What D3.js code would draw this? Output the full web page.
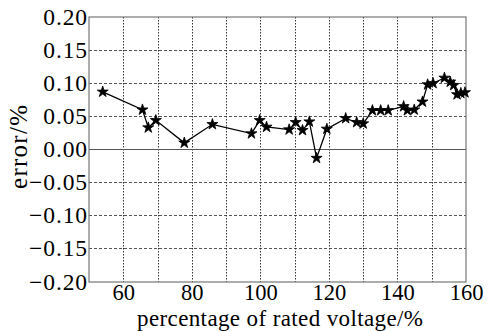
<!DOCTYPE html>
<html>
<head>
<meta charset="utf-8">
<title>error vs percentage of rated voltage</title>
<script src="https://cdn.jsdelivr.net/npm/d3@7"></script>
<style>
  body { margin: 0; background: #fff; }
  svg text { font-family: "Liberation Serif", "Times New Roman", serif !important; fill: #000; }
</style>
</head>
<body>
<div id="chart"></div>
<script>
// data
const voltage = [54, 65.6, 67.3, 69.5, 77.8, 86, 97.4, 99.8, 101.8, 108.4, 110.3, 112.3, 114.3, 116.4, 119.4,
  124.9, 128.1, 130, 132.7, 135.1, 137.3, 141.8, 142.9, 144.9, 147.3, 148.8, 150.4, 153.7, 155.4, 156.4,
  157.4, 158.5, 159.7];
const errorPct = [0.087, 0.060, 0.033, 0.044, 0.010, 0.038, 0.024, 0.044, 0.034, 0.030, 0.041, 0.029, 0.042, -0.013, 0.031,
  0.047, 0.041, 0.039, 0.059, 0.059, 0.059, 0.065, 0.059, 0.060, 0.072, 0.098, 0.100, 0.108, 0.102, 0.097,
  0.083, 0.085, 0.086];
const xTicks = [60, 80, 100, 120, 140, 160];
const xGrid = [60, 70, 80, 90, 100, 110, 120, 130, 140, 150];
const yTicks = [-0.20, -0.15, -0.10, -0.05, 0.00, 0.05, 0.10, 0.15, 0.20];

const W = 489, H = 331;
const margin = { top: 17, right: 23, bottom: 49, left: 89 };
const width = W - margin.left - margin.right,
      height = H - margin.top - margin.bottom;

const svg = d3.select('#chart').append('svg')
    .attr('width', W)
    .attr('height', H);

const g = svg.append('g')
    .attr('transform', 'translate(' + margin.left + ',' + margin.top + ')');

const x = d3.scaleLinear().domain([50, 160]).range([0, width]);
const y = d3.scaleLinear().domain([-0.2, 0.2]).range([height, 0]);

// grid
g.append('g').selectAll('line')
    .data(yTicks.filter(d => d !== 0 && Math.abs(d) < 0.2))
  .enter().append('line')
    .attr('x1', 0).attr('x2', width)
    .attr('y1', d => y(d)).attr('y2', d => y(d))
    .attr('stroke', '#555')
    .attr('stroke-width', 1)
    .attr('stroke-dasharray', '3,2')
    .attr('shape-rendering', 'crispEdges');

g.append('g').selectAll('line')
    .data(xGrid)
  .enter().append('line')
    .attr('x1', d => Math.round(x(d)) + 0.5).attr('x2', d => Math.round(x(d)) + 0.5)
    .attr('y1', 0).attr('y2', height)
    .attr('stroke', '#333')
    .attr('stroke-width', 1)
    .attr('stroke-dasharray', '1.5,1.5');

// zero line
g.append('line')
    .attr('x1', 0).attr('x2', width)
    .attr('y1', y(0)).attr('y2', y(0))
    .attr('stroke', '#555')
    .attr('stroke-width', 1)
    .attr('shape-rendering', 'crispEdges');

// frame
g.append('rect')
    .attr('x', 0).attr('y', 0)
    .attr('width', width).attr('height', height)
    .attr('fill', 'none')
    .attr('stroke', '#777')
    .attr('stroke-width', 1.2);

// axes labels via d3 axes
const fmtY = d => (d < 0 ? '\u2212' : '') + Math.abs(d).toFixed(2);

const yAxis = g.append('g')
    .call(d3.axisLeft(y).tickValues(yTicks).tickFormat(fmtY).tickSize(0).tickPadding(1))
    .attr('font-family', '"Liberation Serif", serif')
    .attr('font-size', 23.5);
yAxis.select('.domain').remove();
yAxis.selectAll('text')
    .attr('dy', '0.3em')
    .attr('letter-spacing', 0.9);

const xAxis = g.append('g')
    .attr('transform', 'translate(0,' + height + ')')
    .call(d3.axisBottom(x).tickValues(xTicks).tickFormat(d3.format('d')).tickSize(0).tickPadding(2))
    .attr('font-family', '"Liberation Serif", serif')
    .attr('font-size', 22.5);
xAxis.select('.domain').remove();

// line
const data = voltage.map((v, i) => ({ v: v, e: errorPct[i] }));

g.append('path')
    .datum(data)
    .attr('fill', 'none')
    .attr('stroke', '#000')
    .attr('stroke-width', 1.3)
    .attr('d', d3.line().x(d => x(d.v)).y(d => y(d.e)));

const star = d3.symbol().type(d3.symbolStar).size(38);
g.append('g').selectAll('path')
    .data(data)
  .enter().append('path')
    .attr('transform', d => 'translate(' + x(d.v) + ',' + y(d.e) + ')')
    .attr('d', star)
    .attr('fill', '#000')
    .attr('stroke', '#000')
    .attr('stroke-width', 0.8);

// titles
svg.append('text')
    .attr('x', 280)
    .attr('y', 326)
    .attr('text-anchor', 'middle')
    .attr('font-size', 23)
    .attr('textLength', 286)
    .text('percentage of rated voltage/%');

svg.append('text')
    .attr('transform', 'translate(27,147) rotate(-90)')
    .attr('text-anchor', 'middle')
    .attr('font-size', 25)
    .attr('textLength', 84)
    .text('error/%');
</script>
</body>
</html>
